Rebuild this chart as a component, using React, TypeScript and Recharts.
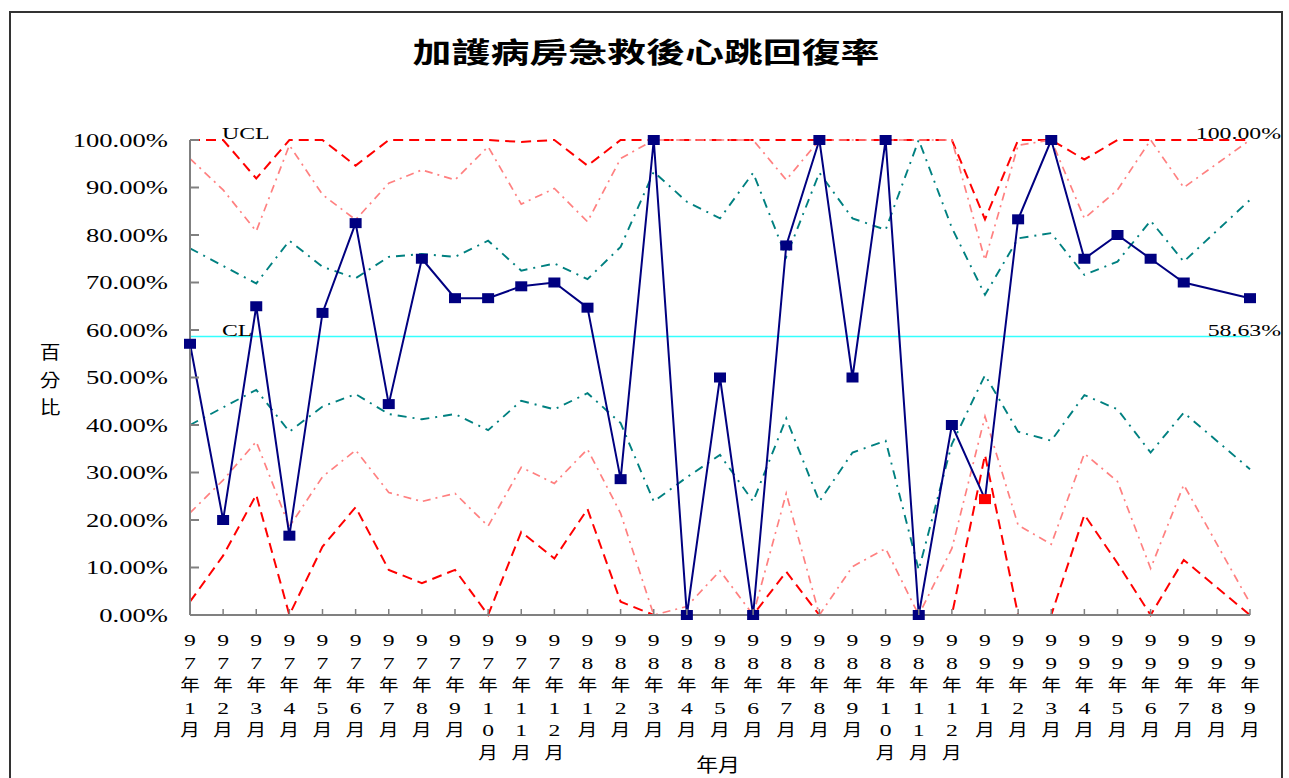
import React from "react";
import { LineChart, Line, XAxis, YAxis, LabelList } from "recharts";

// 97年1月 .. 99年9月
const MONTHS = [
  "97年1月", "97年2月", "97年3月", "97年4月", "97年5月", "97年6月",
  "97年7月", "97年8月", "97年9月", "97年10月", "97年11月", "97年12月",
  "98年1月", "98年2月", "98年3月", "98年4月", "98年5月", "98年6月",
  "98年7月", "98年8月", "98年9月", "98年10月", "98年11月", "98年12月",
  "99年1月", "99年2月", "99年3月", "99年4月", "99年5月", "99年6月",
  "99年7月", "99年8月", "99年9月",
];

// 心跳回復率 (%)
const RATE = [
  57.1, 20.0, 65.0, 16.7, 63.6, 82.5, 44.4, 75.0, 66.7, 66.7, 69.2, 70.0,
  64.7, 28.6, 100, 0, 50, 0, 77.8, 100, 50, 100, 0, 40,
  24.4, 83.3, 100, 75, 80, 75, 70, null, 66.7,
];

const UCL = [
  100, 100, 91.9, 100, 100, 94.6, 100, 100, 100, 100, 99.6, 100,
  94.6, 100, 100, 100, 100, 100, 100, 100, 100, 100, 100, 100,
  83.3, 100, 100, 95.9, 100, 100, 100, null, 100,
];

const PLUS_2SD = [
  96.1, 89.5, 80.8, 98.9, 88.5, 83.2, 90.9, 93.7, 91.6, 98.6, 86.5, 89.8,
  82.8, 96.1, 100, 100, 100, 100, 91.6, 100, 100, 100, 100, 100,
  74.7, 98.9, 100, 83.5, 89.5, 100, 90.0, null, 100,
];

const PLUS_1SD = [
  77.2, 73.5, 69.8, 78.8, 73.3, 70.9, 75.4, 76.0, 75.4, 78.8, 72.5, 74.0,
  70.7, 77.5, 93.3, 87.0, 83.5, 93.1, 75.4, 93.1, 83.5, 81.1, 100, 81.5,
  67.4, 79.3, 80.4, 71.6, 74.4, 83.0, 74.4, null, 87.4,
];

const CL_VALUE = 58.63;

const MINUS_1SD = [
  40.0, 43.7, 47.4, 38.6, 43.9, 46.5, 42.3, 41.2, 42.3, 38.9, 45.1, 43.3,
  46.7, 40.4, 23.9, 29.0, 33.7, 23.9, 41.4, 23.9, 34.2, 36.7, 9.5, 36.0,
  50.5, 38.6, 36.7, 46.3, 43.3, 34.2, 42.6, null, 30.7,
];

const MINUS_2SD = [
  21.5, 28.4, 36.5, 18.6, 29.1, 34.7, 25.8, 23.9, 25.6, 18.7, 31.1, 27.7,
  34.9, 21.4, 0, 1.8, 9.3, 0, 25.6, 0, 10.2, 14.0, 0, 14.0,
  41.8, 18.9, 14.9, 34.0, 28.1, 9.8, 27.4, null, 2.5,
];

const LCL = [
  2.8, 12.5, 25.3, 0, 14.4, 22.7, 9.5, 6.7, 9.5, 0, 17.5, 11.9,
  22.3, 2.8, 0, 0, 0, 0, 9.1, 0, 0, 0, 0, 0,
  33.7, 0, 0, 21.1, 10.9, 0, 11.6, null, 0,
];

const OUT_OF_CONTROL = ["99年1月"];

const Y_TICKS = [0, 10, 20, 30, 40, 50, 60, 70, 80, 90, 100];

const data = MONTHS.map((month, i) => ({
  month,
  rate: RATE[i],
  ucl: UCL[i],
  plus2: PLUS_2SD[i],
  plus1: PLUS_1SD[i],
  cl: CL_VALUE,
  minus1: MINUS_1SD[i],
  minus2: MINUS_2SD[i],
  lcl: LCL[i],
}));

const W = 1289;
const H = 778;
const SX = 1.4; // the original is stretched sideways
const SERIF = "'Liberation Serif', 'Times New Roman', 'Noto Sans CJK TC', serif";
const CJK = "'Noto Sans CJK TC', 'Noto Sans CJK SC', sans-serif";
const AXIS = "#808080";
const NAVY = "#000080";
const X_GAP = 31;
const Y_GAP = 22;

function PercentTick({ x, y, payload }: any) {
  return (
    <g transform={`translate(${x},${y})`}>
      <line x1={Y_GAP} x2={Y_GAP + 9} y1={0} y2={0} stroke={AXIS} strokeWidth={2} />
      <text
        transform={`scale(${SX},1)`}
        textAnchor="end"
        dy="0.35em"
        fontFamily={SERIF}
        fontSize={19}
        fill="#000"
      >
        {Number(payload.value).toFixed(2)}%
      </text>
    </g>
  );
}

function MonthTick({ x, y, payload }: any) {
  const chars = Array.from(String(payload.value));
  return (
    <g transform={`translate(${x},${y})`}>
      <line x1={0} x2={0} y1={-X_GAP} y2={-X_GAP - 6} stroke={AXIS} strokeWidth={1.5} />
      {chars.map((c, i) => {
        const cjk = c === "年" || c === "月";
        return (
          <text
            key={i}
            transform={`translate(0,${i * 22.5}) scale(${cjk ? 1.15 : 1.35},1)`}
            textAnchor="middle"
            fontFamily={cjk ? CJK : SERIF}
            fontSize={cjk ? 17 : 17.5}
            fill="#000"
          >
            {c}
          </text>
        );
      })}
    </g>
  );
}

function SquareDot(props: any) {
  const { cx, cy, payload, index } = props;
  if (cx == null || cy == null || payload.rate == null) return <g key={`d${index}`} />;
  const fill = OUT_OF_CONTROL.includes(payload.month) ? "#FF0000" : NAVY;
  return <rect key={`d${index}`} x={cx - 6} y={cy - 5} width={12} height={10} fill={fill} />;
}

const edgeLabel = (first: string, last: string) => (props: any) => {
  const { x, y, index } = props;
  if (x == null || y == null) return null;
  const style = { fontFamily: SERIF, fontSize: 17, fill: "#000" };
  if (index === 0) {
    return (
      <g transform={`translate(${x + 32},${y - 1})`}>
        <text transform={`scale(${SX},1)`} textAnchor="start" {...style}>{first}</text>
      </g>
    );
  }
  if (index === MONTHS.length - 1) {
    return (
      <g transform={`translate(${x + 31},${y - 1})`}>
        <text transform={`scale(${SX},1)`} textAnchor="end" {...style}>{last}</text>
      </g>
    );
  }
  return null;
};

export default function App() {
  const lastUcl = UCL[UCL.length - 1] as number;
  return (
    <div style={{ position: "absolute", left: 0, top: 0, width: W, height: H, overflow: "hidden", background: "#fff" }}>
      <div
        style={{
          position: "absolute",
          left: 9,
          top: 11,
          width: 1274,
          height: 800,
          border: "2px solid #333",
          boxSizing: "border-box",
        }}
      />
      <div style={{ position: "absolute", left: 0, top: 0 }}>
        <LineChart width={W} height={H} data={data} margin={{ top: 140, right: 39, bottom: 23, left: 0 }}>
          <XAxis
            dataKey="month"
            interval={0}
            height={140}
            tickSize={0}
            tickMargin={X_GAP}
            tick={<MonthTick />}
            axisLine={{ stroke: AXIS, strokeWidth: 2 }}
            tickLine={false}
          />
          <YAxis
            type="number"
            domain={[0, 100]}
            ticks={Y_TICKS}
            width={190}
            tickSize={0}
            tickMargin={Y_GAP}
            tick={<PercentTick />}
            axisLine={{ stroke: AXIS, strokeWidth: 2 }}
            tickLine={false}
          />
          <Line dataKey="ucl" stroke="#FF0000" strokeWidth={2} strokeDasharray="10 6" dot={false} connectNulls isAnimationActive={false}>
            <LabelList dataKey="ucl" content={edgeLabel("UCL", `${lastUcl.toFixed(2)}%`)} />
          </Line>
          <Line dataKey="lcl" stroke="#FF0000" strokeWidth={2} strokeDasharray="10 6" dot={false} connectNulls isAnimationActive={false} />
          <Line dataKey="plus2" stroke="#FF8080" strokeWidth={1.7} strokeDasharray="8 5 2 5" dot={false} connectNulls isAnimationActive={false} />
          <Line dataKey="minus2" stroke="#FF8080" strokeWidth={1.7} strokeDasharray="8 5 2 5" dot={false} connectNulls isAnimationActive={false} />
          <Line dataKey="plus1" stroke="#008080" strokeWidth={1.9} strokeDasharray="9 6 2 6" dot={false} connectNulls isAnimationActive={false} />
          <Line dataKey="minus1" stroke="#008080" strokeWidth={1.9} strokeDasharray="9 6 2 6" dot={false} connectNulls isAnimationActive={false} />
          <Line dataKey="cl" stroke="#33FFFF" strokeWidth={1.6} dot={false} connectNulls isAnimationActive={false}>
            <LabelList dataKey="cl" content={edgeLabel("CL", `${CL_VALUE.toFixed(2)}%`)} />
          </Line>
          <Line dataKey="rate" stroke={NAVY} strokeWidth={2} dot={SquareDot} activeDot={false} connectNulls isAnimationActive={false} />
        </LineChart>
      </div>
      <svg width={W} height={H} style={{ position: "absolute", left: 0, top: 0, pointerEvents: "none" }}>
        <g transform="translate(646,63)">
          <text transform="scale(1.39,1)" textAnchor="middle" fontFamily={CJK} fontWeight={700} fontSize={28} fill="#000">
            加護病房急救後心跳回復率
          </text>
        </g>
        {Array.from("百分比").map((c, i) => (
          <g key={c} transform={`translate(50,${359 + i * 27.5})`}>
            <text transform="scale(1.15,1)" textAnchor="middle" fontFamily={CJK} fontSize={18} fill="#000">{c}</text>
          </g>
        ))}
        <g transform="translate(718,772)">
          <text transform="scale(1.15,1)" textAnchor="middle" fontFamily={CJK} fontSize={19} fill="#000">年月</text>
        </g>
      </svg>
    </div>
  );
}
